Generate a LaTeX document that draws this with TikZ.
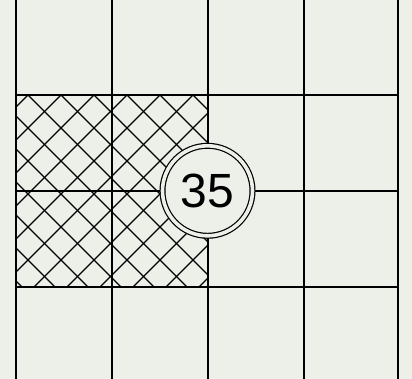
\documentclass[tikz,border=0pt]{standalone}
\usepackage{fontspec}
\setsansfont{Liberation Sans}
\definecolor{paper}{HTML}{EDEFE9}

\begin{document}
\begin{tikzpicture}[
  x=1pt, y=-1pt,
  gridline/.style={line width=1.8pt, black},
  hatchline/.style={line width=1.4pt, black},
  badge/.style={circle, draw=black, line width=1.2pt, double=paper,
                double distance=3.6pt, fill=paper, inner sep=0pt,
                minimum size=90pt, font=\sffamily\fontsize{48}{48}\selectfont},
]

% paper
\fill[paper] (0,0) rectangle (412,379);
\useasboundingbox (0,0) rectangle (412,379);

% cross hatching of the 2x2 block
\begin{scope}
  \clip (16,95) rectangle (208,286);
  \foreach \c in {-170,-137,...,400} {
    \draw[hatchline] (\c,95) -- ++(200,200);
    \draw[hatchline] (\c,95) -- ++(-200,200);
  }
\end{scope}

% grid
\foreach \x in {16,112,208,304,398}
  \draw[gridline] (\x,0) -- (\x,379);
\foreach \y in {95,191,287}
  \draw[gridline] (16,\y) -- (398,\y);

% number badge
\node[badge] (num) at (207.5,190.8) {35};

\end{tikzpicture}
\end{document}
